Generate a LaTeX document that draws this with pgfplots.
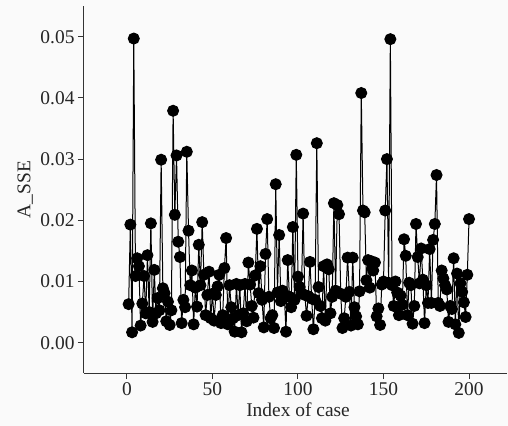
\documentclass[border=0pt]{standalone}
\usepackage{fontspec}
\setmainfont{Liberation Serif}
\usepackage{pgfplots}
\usepackage{pgfplotstable}
\pgfplotsset{compat=1.18}
\definecolor{bg}{RGB}{250,250,250}
\pgfplotstableread{
x y
1 0.0063
2 0.0193
3 0.0017
4 0.0497
5 0.0109
6 0.0138
7 0.0125
8 0.0028
9 0.0064
10 0.0109
11 0.0048
12 0.0143
13 0.0050
14 0.0195
15 0.0034
16 0.0119
17 0.0048
18 0.0073
19 0.0053
20 0.0299
21 0.0089
22 0.0081
23 0.0035
24 0.0067
25 0.0029
26 0.0053
27 0.0379
28 0.0209
29 0.0306
30 0.0165
31 0.0140
32 0.0032
33 0.0070
34 0.0058
35 0.0312
36 0.0183
37 0.0094
38 0.0118
39 0.0030
40 0.0090
41 0.0059
42 0.0160
43 0.0094
44 0.0197
45 0.0111
46 0.0045
47 0.0078
48 0.0116
49 0.0040
50 0.0080
51 0.0036
52 0.0078
53 0.0092
54 0.0111
55 0.0032
56 0.0045
57 0.0122
58 0.0171
59 0.0030
60 0.0094
61 0.0058
62 0.0040
63 0.0018
64 0.0096
65 0.0045
66 0.0094
67 0.0017
68 0.0048
69 0.0096
70 0.0035
71 0.0131
72 0.0095
73 0.0060
74 0.0041
75 0.0110
76 0.0186
77 0.0081
78 0.0125
79 0.0070
80 0.0025
81 0.0145
82 0.0202
83 0.0075
84 0.0040
85 0.0045
86 0.0024
87 0.0259
88 0.0082
89 0.0176
90 0.0068
91 0.0085
92 0.0078
93 0.0018
94 0.0135
95 0.0075
96 0.0058
97 0.0189
98 0.0070
99 0.0307
100 0.0108
101 0.0091
102 0.0081
103 0.0211
104 0.0078
105 0.0044
106 0.0076
107 0.0132
108 0.0072
109 0.0022
110 0.0070
111 0.0326
112 0.0091
113 0.0060
114 0.0040
115 0.0125
116 0.0036
117 0.0128
118 0.0120
119 0.0048
120 0.0075
121 0.0228
122 0.0085
123 0.0225
124 0.0210
125 0.0080
126 0.0024
127 0.0040
128 0.0075
129 0.0139
130 0.0083
131 0.0028
132 0.0139
133 0.0058
134 0.0043
135 0.0030
136 0.0084
137 0.0408
138 0.0216
139 0.0213
140 0.0102
141 0.0135
142 0.0090
143 0.0133
144 0.0118
145 0.0131
146 0.0043
147 0.0056
148 0.0029
149 0.0095
150 0.0100
151 0.0216
152 0.0300
153 0.0098
154 0.0496
155 0.0094
156 0.0060
157 0.0100
158 0.0082
159 0.0045
160 0.0077
161 0.0062
162 0.0169
163 0.0142
164 0.0045
165 0.0098
166 0.0094
167 0.0031
168 0.0060
169 0.0194
170 0.0140
171 0.0097
172 0.0154
173 0.0103
174 0.0032
175 0.0094
176 0.0065
177 0.0153
178 0.0065
179 0.0168
180 0.0194
181 0.0274
182 0.0065
183 0.0060
184 0.0118
185 0.0105
186 0.0094
187 0.0087
188 0.0034
189 0.0060
190 0.0055
191 0.0138
192 0.0030
193 0.0113
194 0.0016
195 0.0097
196 0.0083
197 0.0066
198 0.0042
199 0.0111
200 0.0202
}\datatable
\begin{document}
\begin{tikzpicture}
\path[use as bounding box, fill=bg] (-84bp,-53bp) rectangle (424bp,373bp);
\begin{axis}[
  at={(0,0)}, anchor=south west,
  scale only axis, width=423bp, height=367bp,
  xmin=-25.1, xmax=222.2, ymin=-0.00495, ymax=0.05502,
  axis x line*=bottom, axis y line*=left,
  axis line style={line width=1bp, black!80, -},
  tick align=outside, major tick length=6bp,
  tick style={line width=1bp, black!80},
  xtick={0,50,100,150,200},
  ytick={0,0.01,0.02,0.03,0.04,0.05},
  scaled y ticks=false,
  yticklabel style={/pgf/number format/.cd, fixed, fixed zerofill, precision=2},
  /pgf/number format/assume math mode=true,
  tick label style={font=\fontsize{19.5}{22}\selectfont, black!85},
  label style={font=\fontsize{19.5}{22}\selectfont, black!85},
  xlabel={Index of case}, ylabel={A\_SSE},
  xlabel style={at={(axis description cs:0.506,-0.101)}, anchor=center},
  ylabel style={at={(axis description cs:-0.139,0.5)}, anchor=center},
  clip=false,
]
\addplot[black, line width=1bp, mark=*, mark size=5.5bp, mark options={solid, fill=black}] table[x=x, y=y] {\datatable};
\end{axis}
\end{tikzpicture}
\end{document}
